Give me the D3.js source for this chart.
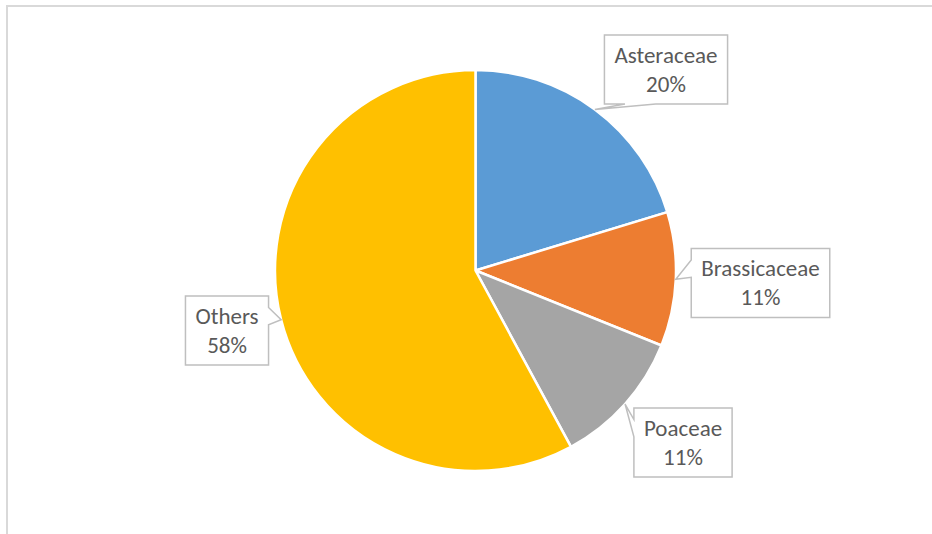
<!DOCTYPE html>
<html>
<head>
<meta charset="utf-8">
<script src="https://cdn.jsdelivr.net/npm/d3@7"></script>
<style>
  body { margin: 0; background: #fff; }
  svg { display: block; }
</style>
</head>
<body>
<script>
// Plant family share pie with callout labels

const w = 932;
const h = 534;

const families = ["Asteraceae", "Brassicaceae", "Poaceae", "Others"];
const shares = [20.3, 10.8, 11.0, 57.9];
const percentLabels = ["20%", "11%", "11%", "58%"];
const colors = ["#5B9BD5", "#ED7D31", "#A5A5A5", "#FFC000"];

// callout box centre, relative to pie centre (layout, dragged by hand in the original)
const calloutOffset = [[190.5, -201], [285, 12.5], [207.5, 172], [-248.5, 60]];

const cx = 475.5, cy = 270.5, radius = 200.5;
const fontFamily = "Carlito, Lato, 'Noto Sans', sans-serif";
const fontSize = 23;

const svg = d3.select("body")
  .append("svg")
  .attr("width", w)
  .attr("height", h);

// chart area border (only top and left visible)
svg.append("rect")
  .attr("x", 7)
  .attr("y", 6)
  .attr("width", 960)
  .attr("height", 560)
  .attr("fill", "none")
  .attr("stroke", "#d9d9d9")
  .attr("stroke-width", 2);

const data = families.map((f, i) => ({ name: f, value: shares[i], pct: percentLabels[i], color: colors[i] }));

const pie = d3.pie().sort(null).value(d => d.value);
const arcs = pie(data);

const arc = d3.arc().innerRadius(0).outerRadius(radius);

const g = svg.append("g").attr("transform", `translate(${cx},${cy})`);

g.selectAll("path.slice")
  .data(arcs)
  .enter()
  .append("path")
  .attr("class", "slice")
  .attr("d", arc)
  .attr("fill", d => d.data.color)
  .attr("stroke", "#fff")
  .attr("stroke-width", 2.5)
  .attr("stroke-linejoin", "round");

// callout labels
const labels = g.selectAll("g.callout")
  .data(arcs)
  .enter()
  .append("g")
  .attr("class", "callout");

labels.each(function(d, i) {
  const sel = d3.select(this);
  const [bx, by] = calloutOffset[i];

  const t1 = sel.append("text")
    .attr("x", bx)
    .attr("y", by - 7)
    .attr("text-anchor", "middle")
    .attr("font-family", fontFamily)
    .attr("font-size", fontSize)
    .attr("fill", "#595959")
    .text(d.data.name);

  sel.append("text")
    .attr("x", bx)
    .attr("y", by + 22)
    .attr("text-anchor", "middle")
    .attr("font-family", fontFamily)
    .attr("font-size", fontSize)
    .attr("fill", "#595959")
    .text(d.data.pct);

  const tw = t1.node().getComputedTextLength();
  const bw = tw + 20;
  const bh = 69;
  const l = bx - bw / 2, r = bx + bw / 2, t = by - bh / 2, b = by + bh / 2;

  // tip sits on the pie edge at the slice middle
  const mid = (d.startAngle + d.endAngle) / 2;
  const tipX = radius * Math.sin(mid);
  const tipY = -radius * Math.cos(mid);

  // wedgeRectCallout geometry
  const dx = tipX - bx, dy = tipY - by;
  const dq = dx * bh / bw;
  const xg1 = dx > 0 ? 7 : 2, xg2 = dx > 0 ? 10 : 5;
  const yg1 = dy > 0 ? 7 : 2, yg2 = dy > 0 ? 10 : 5;
  const x1 = l + bw * xg1 / 12, x2 = l + bw * xg2 / 12;
  const y1 = t + bh * yg1 / 12, y2 = t + bh * yg2 / 12;
  const vertical = Math.abs(dy) > Math.abs(dq);

  const p = d3.path();
  p.moveTo(l, t);
  if (vertical && dy < 0) { p.lineTo(x1, t); p.lineTo(tipX, tipY); p.lineTo(x2, t); }
  p.lineTo(r, t);
  if (!vertical && dx > 0) { p.lineTo(r, y1); p.lineTo(tipX, tipY); p.lineTo(r, y2); }
  p.lineTo(r, b);
  if (vertical && dy > 0) { p.lineTo(x2, b); p.lineTo(tipX, tipY); p.lineTo(x1, b); }
  p.lineTo(l, b);
  if (!vertical && dx < 0) { p.lineTo(l, y2); p.lineTo(tipX, tipY); p.lineTo(l, y1); }
  p.closePath();

  sel.insert("path", "text")
    .attr("d", p.toString())
    .attr("fill", "#fff")
    .attr("stroke", "#bfbfbf")
    .attr("stroke-width", 1.5);
});
</script>
</body>
</html>
